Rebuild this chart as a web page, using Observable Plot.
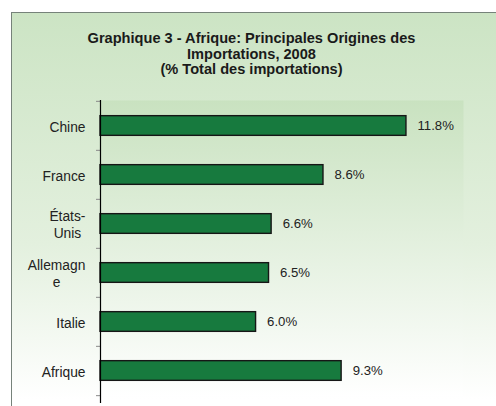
<!DOCTYPE html>
<html>
<head>
<meta charset="utf-8">
<script src="https://cdn.jsdelivr.net/npm/d3@7"></script>
<script src="https://cdn.jsdelivr.net/npm/@observablehq/plot@0.6"></script>
<style>
  html, body { margin: 0; padding: 0; width: 496px; height: 406px; overflow: hidden; background: #ffffff; }
  #frame {
    position: absolute; left: 11px; top: 12px; width: 500px; height: 420px;
    border: 1px solid #76827a;
    background: linear-gradient(to bottom, #cce4c4 0%, #e3f0de 55%, #ffffff 92%);
  }
  #title {
    position: absolute; left: 0; top: 31px; width: 503px; text-align: center;
    font: bold 14.6px "Liberation Sans", Arial, sans-serif; line-height: 15.6px; color: #1a1a1a;
  }
  #chart { position: absolute; left: 0; top: 85px; }
</style>
</head>
<body>
<div id="frame"></div>
<div id="title">Graphique 3 - Afrique: Principales Origines des<br>Importations, 2008<br>(% Total des importations)</div>
<div id="chart"></div>
<script>
const categories = ["Chine", "France", "États-Unis", "Allemagne", "Italie", "Afrique"];
const tickLabels = ["Chine", "France", "États-\nUnis", "Allemagn\ne", "Italie", "Afrique"];
const values = [11.8, 8.6, 6.6, 6.5, 6.0, 9.3];
const valueLabels = ["11.8%", "8.6%", "6.6%", "6.5%", "6.0%", "9.3%"];

const data = categories.map((c, i) => ({cat: c, value: values[i], label: valueLabels[i]}));

const W = 496, H = 321, mt = 15, mb = 10, ml = 100, mr = 33;
const step = (H - mt - mb) / categories.length;
const barH = 20;
const inset = (step - barH) / 2;

const chart = Plot.plot({
  width: W, height: H,
  marginTop: mt, marginBottom: mb, marginLeft: ml, marginRight: mr,
  style: {fontFamily: "'Liberation Sans', Arial, sans-serif", fontSize: "13px", background: "transparent", color: "#222"},
  x: {domain: [0, 14], axis: null},
  y: {domain: categories, padding: 0, axis: null},
  marks: [
    Plot.frame({fill: "url(#plotGrad)", stroke: "none"}),
    Plot.barX(data, {y: "cat", x: "value", fill: "#177a3e", stroke: "#161616", strokeWidth: 1.4, insetTop: inset, insetBottom: inset}),
    Plot.text(data, {y: "cat", x: "value", text: "label", textAnchor: "start", dx: 11, fontSize: 13.2, fill: "#222"}),
    Plot.axisY({tickSize: 0, tickPadding: 15, label: null, fontSize: 13.8, lineHeight: 1.25, fill: "#222",
      tickFormat: d => tickLabels[categories.indexOf(d)]}),
    Plot.axisY({tickSize: 4, label: null, fill: "none", stroke: "#8a8a8a", dy: -step / 2, tickFormat: () => ""}),
    Plot.axisY([categories[categories.length - 1]], {tickSize: 4, label: null, fill: "none", stroke: "#8a8a8a", dy: step / 2, tickFormat: () => ""}),
    Plot.ruleX([0], {stroke: "#000", strokeWidth: 1.2, insetBottom: -7})
  ]
});

document.getElementById("chart").appendChild(chart);

// gradient for the plot area
const ns = "http://www.w3.org/2000/svg";
const defs = document.createElementNS(ns, "defs");
const lg = document.createElementNS(ns, "linearGradient");
lg.setAttribute("id", "plotGrad");
lg.setAttribute("x1", "0"); lg.setAttribute("y1", "0"); lg.setAttribute("x2", "0"); lg.setAttribute("y2", "1");
[["0", "#c9e2c0"], ["1", "#ffffff"]].forEach(([o, c]) => {
  const s = document.createElementNS(ns, "stop");
  s.setAttribute("offset", o); s.setAttribute("stop-color", c);
  lg.appendChild(s);
});
defs.appendChild(lg);
chart.insertBefore(defs, chart.firstChild);

// center multi-line tick labels within their block
chart.querySelectorAll('g[aria-label="y-axis tick label"] text').forEach(t => {
  if (t.querySelectorAll("tspan").length > 1) {
    const w = t.getBBox().width;
    t.setAttribute("text-anchor", "middle");
    t.setAttribute("transform", (t.getAttribute("transform") || "") + ` translate(${-w / 2},0)`);
  }
});
</script>
</body>
</html>
